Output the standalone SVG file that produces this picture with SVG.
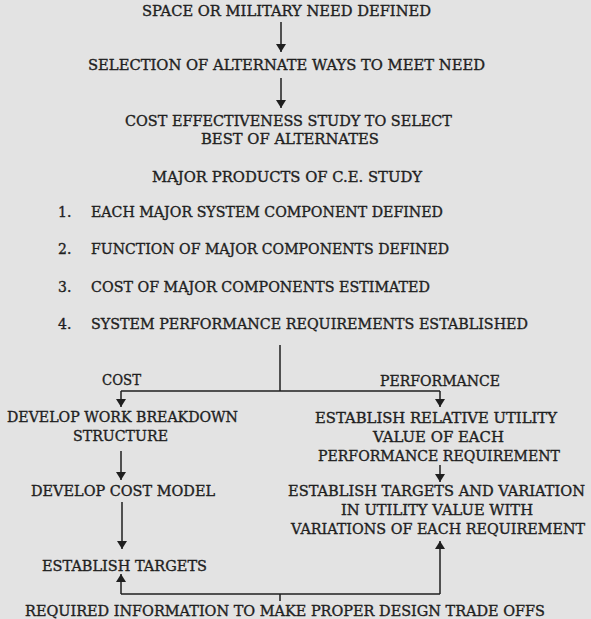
<svg xmlns="http://www.w3.org/2000/svg" width="591" height="619" viewBox="0 0 591 619">
<style>
text{font-family:"DejaVu Serif","Liberation Serif",serif;font-size:14px;fill:#1f1f1f;stroke:#1f1f1f;stroke-width:0.35;}
.m{text-anchor:middle;}
.ln{stroke:#1f1f1f;stroke-width:1.5;fill:none;}
</style>
<defs>
<marker id="ah" viewBox="0 0 8 12" refX="8" refY="6" markerWidth="8" markerHeight="12" markerUnits="userSpaceOnUse" orient="auto">
<path d="M0,1 L8,6 L0,11 Z" fill="#1f1f1f"/>
</marker>
</defs>
<rect width="591" height="619" fill="#e3e3e3"/>
<g id="connectors">
<line class="ln" x1="281" y1="22" x2="281" y2="52" marker-end="url(#ah)"/>
<line class="ln" x1="281" y1="78" x2="281" y2="108" marker-end="url(#ah)"/>
<line class="ln" x1="280" y1="345" x2="280" y2="391"/>
<line class="ln" x1="121" y1="391" x2="440" y2="391"/>
<line class="ln" x1="121" y1="391" x2="121" y2="407" marker-end="url(#ah)"/>
<line class="ln" x1="440" y1="391" x2="440" y2="407" marker-end="url(#ah)"/>
<line class="ln" x1="121" y1="451" x2="121" y2="480" marker-end="url(#ah)"/>
<line class="ln" x1="440" y1="465" x2="440" y2="482" marker-end="url(#ah)"/>
<line class="ln" x1="122" y1="502" x2="122" y2="549" marker-end="url(#ah)"/>
<line class="ln" x1="121" y1="594" x2="440" y2="594"/>
<line class="ln" x1="121" y1="594" x2="121" y2="574" marker-end="url(#ah)"/>
<line class="ln" x1="440" y1="594" x2="440" y2="541" marker-end="url(#ah)"/>
<line class="ln" x1="280" y1="594" x2="280" y2="601"/>
</g>
<g id="n1"><text class="m" x="286.5" y="16" textLength="289" lengthAdjust="spacingAndGlyphs">SPACE OR MILITARY NEED DEFINED</text></g>
<g id="n2"><text class="m" x="286.5" y="70" textLength="397" lengthAdjust="spacingAndGlyphs">SELECTION OF ALTERNATE WAYS TO MEET NEED</text></g>
<g id="n3">
<text class="m" x="288.5" y="126" textLength="327" lengthAdjust="spacingAndGlyphs">COST EFFECTIVENESS STUDY TO SELECT</text>
<text class="m" x="290" y="144" textLength="178" lengthAdjust="spacingAndGlyphs">BEST OF ALTERNATES</text>
</g>
<g id="n4">
<text class="m" x="287" y="182" textLength="270" lengthAdjust="spacingAndGlyphs">MAJOR PRODUCTS OF C.E. STUDY</text>
<text x="58" y="217">1.</text>
<text x="91" y="217" textLength="352" lengthAdjust="spacingAndGlyphs">EACH MAJOR SYSTEM COMPONENT DEFINED</text>
<text x="58" y="254">2.</text>
<text x="91" y="254" textLength="358" lengthAdjust="spacingAndGlyphs">FUNCTION OF MAJOR COMPONENTS DEFINED</text>
<text x="58" y="292">3.</text>
<text x="91" y="292" textLength="339" lengthAdjust="spacingAndGlyphs">COST OF MAJOR COMPONENTS ESTIMATED</text>
<text x="58" y="329">4.</text>
<text x="91" y="329" textLength="437" lengthAdjust="spacingAndGlyphs">SYSTEM PERFORMANCE REQUIREMENTS ESTABLISHED</text>
</g>
<g id="lbl-cost"><text class="m" x="121.5" y="385" textLength="39" lengthAdjust="spacingAndGlyphs">COST</text></g>
<g id="lbl-perf"><text class="m" x="440" y="386" textLength="120" lengthAdjust="spacingAndGlyphs">PERFORMANCE</text></g>
<g id="n5">
<text class="m" x="122.5" y="422" textLength="231" lengthAdjust="spacingAndGlyphs">DEVELOP WORK BREAKDOWN</text>
<text class="m" x="120.5" y="441" textLength="95" lengthAdjust="spacingAndGlyphs">STRUCTURE</text>
</g>
<g id="n6">
<text class="m" x="436" y="423" textLength="242" lengthAdjust="spacingAndGlyphs">ESTABLISH RELATIVE UTILITY</text>
<text class="m" x="438.5" y="442" textLength="131" lengthAdjust="spacingAndGlyphs">VALUE OF EACH</text>
<text class="m" x="439" y="461" textLength="242" lengthAdjust="spacingAndGlyphs">PERFORMANCE REQUIREMENT</text>
</g>
<g id="n7"><text class="m" x="123" y="496" textLength="184" lengthAdjust="spacingAndGlyphs">DEVELOP COST MODEL</text></g>
<g id="n8">
<text class="m" x="436.5" y="496" textLength="297" lengthAdjust="spacingAndGlyphs">ESTABLISH TARGETS AND VARIATION</text>
<text class="m" x="437" y="515" textLength="192" lengthAdjust="spacingAndGlyphs">IN UTILITY VALUE WITH</text>
<text class="m" x="438" y="534" textLength="294" lengthAdjust="spacingAndGlyphs">VARIATIONS OF EACH REQUIREMENT</text>
</g>
<g id="n9"><text class="m" x="124.5" y="571" textLength="165" lengthAdjust="spacingAndGlyphs">ESTABLISH TARGETS</text></g>
<g id="n10"><text class="m" x="285" y="616" textLength="520" lengthAdjust="spacingAndGlyphs">REQUIRED INFORMATION TO MAKE PROPER DESIGN TRADE OFFS</text></g>
</svg>
